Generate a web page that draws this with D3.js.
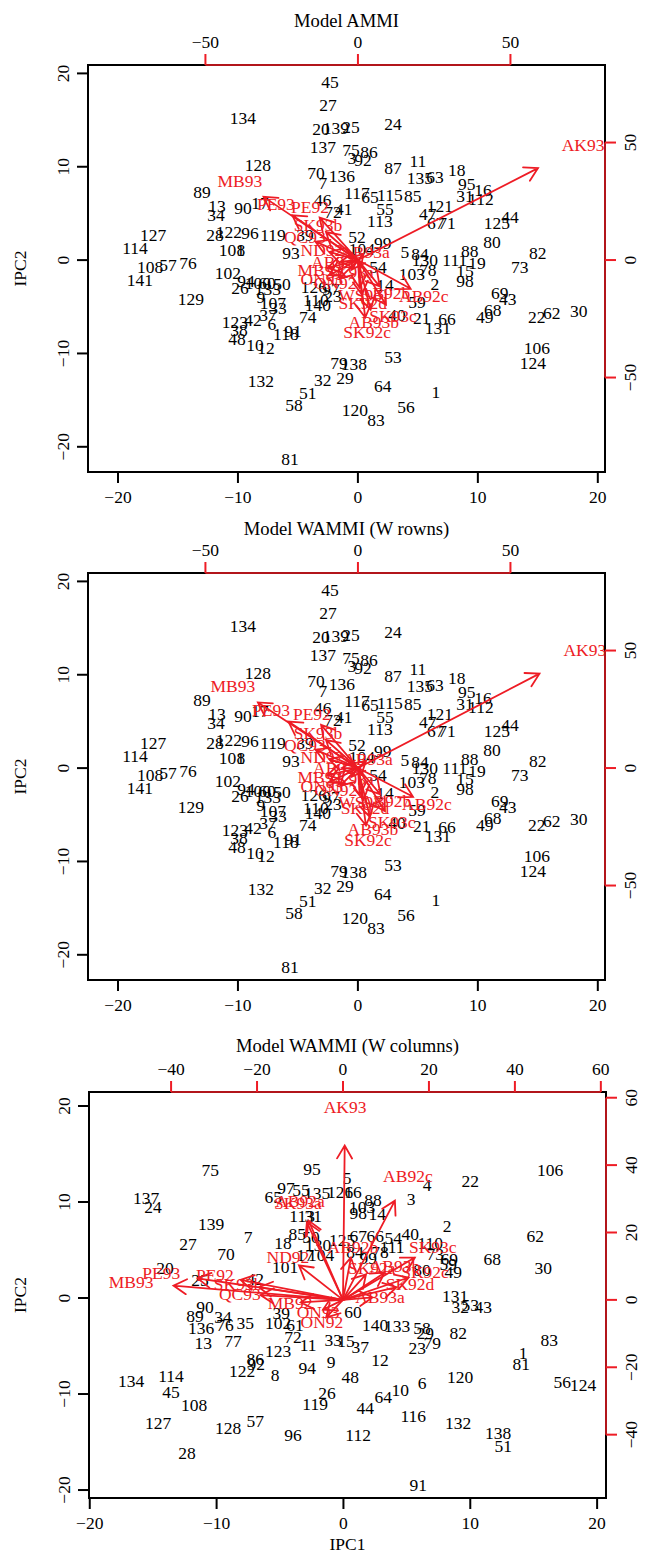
<!DOCTYPE html>
<html><head><meta charset="utf-8">
<script src="https://cdn.jsdelivr.net/npm/d3@7"></script>
<style>body{margin:0;background:#fff}svg{display:block}text{font-family:"Liberation Serif","Times New Roman",serif}</style>
</head><body><svg id="c" width="654" height="1555"></svg>
<script>
// ---------- genotype scores, panels 1 & 2 (IPC1, IPC2) ----------
const g1Labels = ["45","27","134","20","139","25","24","137","75","86","3","92","128","87","11","70","136","7","135","63","18","95","16","31","112","89","117","65","115","85","13","34","90","17","46","72","41","55","121","47","67","71","113","125","44","127","114","28","122","96","119","39","52","80","99","101","8","93","104","5","84","88","82","130","111","19","73","108","57","76","141","102","15","103","78","98","2","26","94","100","60","50","133","126","97","23","69","43","9","107","33","129","140","110","59","68","49","22","62","30","37","74","40","21","66","123","42","6","131","38","118","91","48","10","12","106","53","124","79","138","29","32","132","64","51","1","58","56","120","83","81","14","54"];
const g1X = [-2.33,-2.5,-9.58,-3.08,-1.83,-0.58,2.92,-2.92,-0.58,0.92,-0.5,0.42,-8.33,2.92,5.0,-3.5,-1.33,-2.92,5.17,6.42,8.25,9.08,10.42,8.92,10.25,-13.0,-0.08,1.0,2.67,4.58,-11.75,-11.83,-9.58,-8.17,-2.92,-2.08,-1.17,2.25,6.83,5.83,6.5,7.42,1.83,11.58,12.67,-17.08,-18.58,-11.92,-10.75,-9.0,-7.08,-4.42,-0.08,11.17,2.08,-10.5,-9.75,-5.58,0.33,3.92,5.17,9.33,15.0,5.58,8.08,9.92,13.5,-17.33,-15.83,-14.17,-18.17,-10.83,8.92,4.5,5.83,8.92,6.42,-9.83,-9.33,-8.33,-7.58,-6.33,-7.5,-3.67,-2.25,-2.08,11.83,12.5,-8.08,-7.08,-6.67,-13.92,-3.33,-3.5,4.92,11.25,10.58,14.92,16.17,18.42,-7.5,-4.17,3.25,5.33,7.42,-10.25,-8.75,-7.17,6.67,-9.92,-6.0,-5.42,-10.08,-8.58,-7.67,14.92,2.92,14.58,-1.58,-0.33,-1.08,-2.92,-8.08,2.08,-4.17,6.5,-5.33,4.0,-0.25,1.5,-5.67,2.25,1.67];
const g1Y = [19.04,16.68,15.19,14.01,14.12,14.22,14.55,12.09,11.76,11.55,10.91,10.7,10.16,9.84,10.59,9.3,8.98,8.24,8.77,8.88,9.63,8.13,7.49,6.84,6.52,7.27,7.17,6.74,6.95,6.84,5.78,4.81,5.56,6.1,6.42,5.13,5.45,5.45,5.78,4.92,3.96,3.96,4.17,3.96,4.6,2.67,1.28,2.67,2.99,2.89,2.67,2.67,2.46,1.93,1.82,1.07,1.07,0.75,1.18,0.86,0.64,0.96,0.75,0,0,-0.32,-0.75,-0.75,-0.53,-0.32,-2.14,-1.39,-1.18,-1.5,-1.07,-2.25,-2.57,-2.99,-2.25,-2.46,-2.46,-2.57,-3.1,-2.89,-3.1,-3.85,-3.53,-4.17,-3.96,-4.6,-5.13,-4.17,-4.81,-4.28,-4.49,-5.35,-6.1,-6.1,-5.67,-5.45,-5.88,-6.1,-5.88,-6.2,-6.31,-6.63,-6.42,-6.84,-7.27,-7.49,-7.91,-7.59,-8.45,-9.09,-9.41,-9.41,-10.37,-11.02,-11.02,-11.12,-12.62,-12.83,-12.94,-13.48,-14.22,-14.12,-15.51,-15.72,-16.04,-17.11,-21.28,-2.67,-0.75];

// ---------- environment scores ----------
const e1Labels = ["AK93","MB93","PE93","PE92","SK93b","QC93","ND92","AB92a","MB92","ON93","ON92","AB93a","SK93a","WS93","SK92d","AB92b","AB92c","SK93c","AB93b","SK92c"];
const e1X = [73.8,-38.7,-26.9,-15.7,-13.1,-17.4,-11.8,-7.2,-12.5,-11.8,-7.5,2.3,-2.6,0.7,1.6,8.9,21.6,11.5,5.2,3.0];
const e1Y = [48.9,33.6,23.8,22.6,14.9,9.8,4.3,-0.9,-4.3,-8.1,-9.8,3.4,-5.1,-14.9,-18.3,-14.0,-15.3,-23.8,-26.4,-30.6];

const e2Labels = ["AK93","MB93","PE93","PE92","SK93b","QC93","ND92","AB92a","MB92","ON93","ON92","AB93a","SK93a","WS93","SK92d","AB92b","AB92c","SK93c","AB93b","SK92c"];
const e2X = [74.4,-41.0,-28.5,-15.1,-13.1,-17.4,-11.8,-6.6,-12.5,-11.8,-7.2,3.3,-2.6,0.7,2.3,9.2,22.6,11.1,4.9,3.3];
const e2Y = [50.2,34.9,24.7,23.0,14.9,9.8,4.7,0.0,-3.8,-7.7,-9.4,3.8,-4.7,-14.5,-17.0,-14.0,-15.3,-23.0,-26.0,-30.6];

// ---------- genotype scores, panel 3 ----------
const g3Labels = ["75","95","137","24","65","97","55","135","126","16","5","113","31","139","7","27","70","18","85","50","130","17","104","101","125","67","66","54","40","110","73","2","62","68","30","106","22","4","3","88","103","98","14","111","78","84","99","69","59","49","80","131","32","53","43","82","58","29","79","23","140","133","37","12","48","6","120","10","64","44","116","132","112","138","51","91","83","1","81","56","124","90","89","34","136","76","35","13","77","39","102","61","72","11","123","86","92","122","8","94","9","134","114","45","108","26","119","127","57","128","96","28","33","15","20","25","42","60"];
const g3X = [-10.51,-2.47,-15.56,-15.01,-5.54,-4.52,-3.34,-2.07,-0.26,0.76,0.29,-3.26,-2.39,-10.43,-7.52,-12.25,-9.25,-4.76,-3.65,-2.55,-2.0,-3.02,-1.76,-4.6,-0.1,1.16,2.5,3.92,5.26,6.84,7.23,8.18,15.12,11.73,15.75,16.3,9.99,6.6,5.34,2.34,1.47,1.16,2.66,3.84,2.89,0.92,1.95,8.35,8.27,8.65,6.2,8.81,9.2,9.99,11.02,9.05,6.2,6.44,7.0,5.81,2.5,4.23,1.32,2.89,0.53,6.2,9.2,4.47,3.13,1.71,5.5,9.05,1.16,12.2,12.6,5.89,16.22,14.17,14.01,17.25,18.9,-10.91,-11.7,-9.49,-11.22,-9.33,-7.75,-11.06,-8.7,-4.91,-5.15,-3.81,-3.97,-2.78,-5.15,-6.96,-6.88,-7.99,-5.39,-2.86,-0.97,-16.74,-13.59,-13.59,-11.78,-1.29,-2.23,-14.61,-6.96,-9.09,-3.97,-12.33,-0.81,0.21,-14.06,-11.3,-6.96,0.76];
const g3Y = [13.33,13.44,10.42,9.48,10.52,11.46,11.25,10.94,11.04,11.04,12.5,8.54,8.54,7.71,6.35,5.63,4.58,5.73,6.67,6.35,5.52,4.48,4.48,3.23,6.04,6.46,6.46,6.25,6.67,5.73,4.58,7.5,6.46,4.06,3.13,13.33,12.19,11.77,10.31,10.21,9.48,8.85,8.75,5.31,4.79,4.79,4.17,4.06,3.54,2.71,2.92,0.21,-0.94,-0.73,-0.94,-3.65,-3.13,-3.65,-4.69,-5.21,-2.81,-2.92,-5.1,-6.46,-8.23,-8.85,-8.23,-9.58,-10.31,-11.46,-12.29,-13.02,-14.27,-14.06,-15.42,-19.48,-4.38,-5.73,-6.88,-8.75,-9.06,-0.94,-1.88,-1.98,-3.13,-2.81,-2.6,-4.69,-4.48,-1.56,-2.6,-2.81,-4.06,-4.9,-5.52,-6.35,-6.88,-7.6,-8.02,-7.29,-6.67,-8.65,-8.13,-9.79,-11.15,-9.9,-11.04,-13.02,-12.81,-13.54,-14.27,-16.15,-4.38,-4.48,3.13,1.88,1.98,-1.46];

const e3Labels = ["AK93","AB92c","MB93","PE93","PE92","QC93","SK93b","ND92","SK93a","AB92a","AB92b","SK93c","SK92a","AB93b","SK92c","SK92d","AB93a","MB92","ON93","ON92"];
const e3X = [0.5,15.1,-49.3,-42.3,-29.8,-24.0,-24.4,-12.8,-10.5,-10.0,2.3,20.9,6.7,12.1,19.1,15.6,8.6,-12.3,-5.8,-4.9];
const e3Y = [57.3,36.8,5.3,8.0,7.4,1.8,4.7,12.8,28.8,29.4,15.7,15.7,9.5,10.1,8.3,4.7,0.9,-0.9,-3.6,-6.5];

// tick values
const ticks12 = [-20,-10,0,10,20];
const sec12 = [-50,0,50];
const sec3 = [-40,-20,0,20,40,60];

// ---------- panel layout ----------
const panels = [
  {title:"Model AMMI", titleY:20, box:{l:88,r:605,t:65,b:472},
   xdom:[-22.5,20.6], ydom:[-22.7,20.9], x2dom:[-88.5,81.0], y2dom:[-90.2,83.0],
   xt:ticks12, yt:ticks12, x2t:sec12, y2t:sec12,
   gl:g1Labels, gx:g1X, gy:g1Y, el:e1Labels, ex:e1X, ey:e1Y, xlab:null},
  {title:"Model WAMMI (W rowns)", titleY:528, box:{l:88,r:605,t:573,b:980},
   xdom:[-22.5,20.6], ydom:[-22.7,20.9], x2dom:[-88.5,81.0], y2dom:[-90.2,83.0],
   xt:ticks12, yt:ticks12, x2t:sec12, y2t:sec12,
   gl:g1Labels, gx:g1X, gy:g1Y, el:e2Labels, ex:e2X, ey:e2Y, xlab:null},
  {title:"Model WAMMI (W columns)", titleY:1045, box:{l:89,r:606,t:1092,b:1498},
   xdom:[-20.06,20.7], ydom:[-20.83,21.46], x2dom:[-59.1,61.2], y2dom:[-58.8,61.7],
   xt:ticks12, yt:ticks12, x2t:sec3, y2t:sec3,
   gl:g3Labels, gx:g3X, gy:g3Y, el:e3Labels, ex:e3X, ey:e3Y, xlab:"IPC1"}
];

const RED = "#ee1c25";
const FS = 17.5, TL = 11, LAB = 25;
const svg = d3.select("#c");
const fmt = v => v < 0 ? "\u2212" + (-v) : String(v);

panels.forEach(p => {
  const b = p.box;
  const x = d3.scaleLinear().domain(p.xdom).range([b.l,b.r]);
  const y = d3.scaleLinear().domain(p.ydom).range([b.b,b.t]);
  const x2 = d3.scaleLinear().domain(p.x2dom).range([b.l,b.r]);
  const y2 = d3.scaleLinear().domain(p.y2dom).range([b.b,b.t]);
  const g = svg.append("g");

  // genotype labels
  g.append("g").selectAll("text").data(p.gl).join("text")
    .attr("x",(d,i)=>x(p.gx[i])).attr("y",(d,i)=>y(p.gy[i]))
    .attr("dy","0.35em").attr("text-anchor","middle")
    .attr("font-size",FS).attr("fill","#000").text(d=>d);

  // environment arrows (drawn to 0.8 of the score, label at the score)
  const ox = x2(0), oy = y2(0);
  const ag = g.append("g").attr("stroke",RED).attr("stroke-width",1.8).attr("fill","none").attr("stroke-linecap","round");
  p.el.forEach((lab,i) => {
    const tx = x2(p.ex[i]*0.8), ty = y2(p.ey[i]*0.8);
    const a = Math.atan2(ty-oy, tx-ox), L = 15, w = Math.PI/6;
    ag.append("path").attr("d",
      `M${ox},${oy}L${tx},${ty}M${tx-L*Math.cos(a-w)},${ty-L*Math.sin(a-w)}L${tx},${ty}L${tx-L*Math.cos(a+w)},${ty-L*Math.sin(a+w)}`);
  });
  g.append("g").selectAll("text").data(p.el).join("text")
    .attr("x",(d,i)=>x2(p.ex[i])).attr("y",(d,i)=>y2(p.ey[i]))
    .attr("dy","0.35em").attr("text-anchor","middle")
    .attr("font-size",FS).attr("fill",RED).text(d=>d);

  // box
  g.append("rect").attr("x",b.l).attr("y",b.t).attr("width",b.r-b.l).attr("height",b.b-b.t)
    .attr("fill","none").attr("stroke","#000").attr("stroke-width",2);

  const ax = g.append("g");
  // bottom axis
  ax.append("line").attr("x1",x(p.xt[0])).attr("x2",x(p.xt[p.xt.length-1])).attr("y1",b.b).attr("y2",b.b).attr("stroke","#000").attr("stroke-width",2);
  p.xt.forEach(v=>{
    ax.append("line").attr("x1",x(v)).attr("x2",x(v)).attr("y1",b.b).attr("y2",b.b+TL).attr("stroke","#000").attr("stroke-width",2);
    ax.append("text").attr("x",x(v)).attr("y",b.b+LAB).attr("dy","0.35em").attr("text-anchor","middle").attr("font-size",FS).text(fmt(v));
  });
  // left axis
  ax.append("line").attr("x1",b.l).attr("x2",b.l).attr("y1",y(p.yt[0])).attr("y2",y(p.yt[p.yt.length-1])).attr("stroke","#000").attr("stroke-width",2);
  p.yt.forEach(v=>{
    ax.append("line").attr("x1",b.l).attr("x2",b.l-TL).attr("y1",y(v)).attr("y2",y(v)).attr("stroke","#000").attr("stroke-width",2);
    ax.append("text").attr("transform",`translate(${b.l-LAB},${y(v)}) rotate(-90)`).attr("dy","0.35em").attr("text-anchor","middle").attr("font-size",FS).text(fmt(v));
  });
  // top (red) axis
  ax.append("line").attr("x1",x2(p.x2t[0])).attr("x2",x2(p.x2t[p.x2t.length-1])).attr("y1",b.t).attr("y2",b.t).attr("stroke",RED).attr("stroke-width",1.5);
  p.x2t.forEach(v=>{
    ax.append("line").attr("x1",x2(v)).attr("x2",x2(v)).attr("y1",b.t).attr("y2",b.t-TL).attr("stroke",RED).attr("stroke-width",2);
    ax.append("text").attr("x",x2(v)).attr("y",b.t-LAB+2).attr("dy","0.35em").attr("text-anchor","middle").attr("font-size",FS).text(fmt(v));
  });
  // right (red) axis
  ax.append("line").attr("x1",b.r).attr("x2",b.r).attr("y1",y2(p.y2t[0])).attr("y2",y2(p.y2t[p.y2t.length-1])).attr("stroke",RED).attr("stroke-width",1.5);
  p.y2t.forEach(v=>{
    ax.append("line").attr("x1",b.r).attr("x2",b.r+TL).attr("y1",y2(v)).attr("y2",y2(v)).attr("stroke",RED).attr("stroke-width",2);
    ax.append("text").attr("transform",`translate(${b.r+LAB},${y2(v)}) rotate(-90)`).attr("dy","0.35em").attr("text-anchor","middle").attr("font-size",FS).text(fmt(v));
  });

  // titles
  g.append("text").attr("x",(b.l+b.r)/2).attr("y",p.titleY).attr("dy","0.35em").attr("text-anchor","middle").attr("font-size",18.6).text(p.title);
  g.append("text").attr("transform",`translate(20,${(b.t+b.b)/2}) rotate(-90)`).attr("dy","0.35em").attr("text-anchor","middle").attr("font-size",FS).text("IPC2");
  if (p.xlab) g.append("text").attr("x",(b.l+b.r)/2).attr("y",b.b+46).attr("dy","0.35em").attr("text-anchor","middle").attr("font-size",FS).text(p.xlab);
});
</script></body></html>
